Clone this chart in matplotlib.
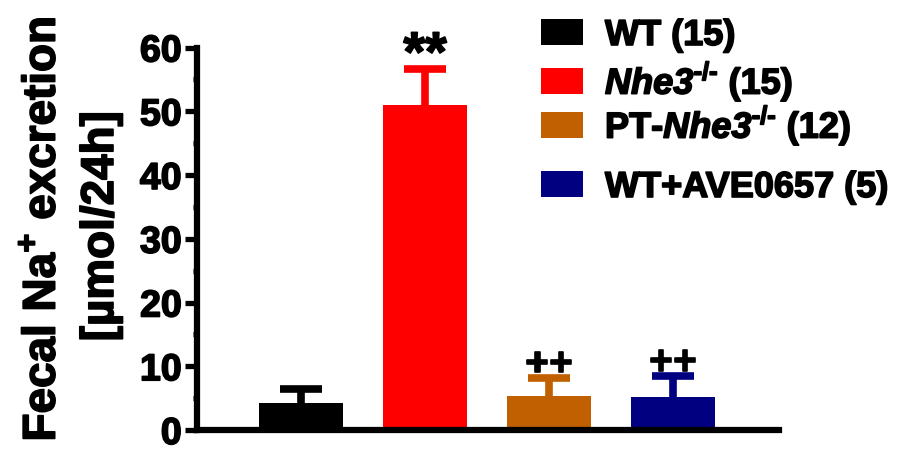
import numpy as np
import matplotlib.pyplot as plt
import matplotlib.patheffects as pe
from matplotlib.patches import Rectangle

plt.rcParams['font.family'] = ['Liberation Sans', 'DejaVu Sans']
plt.rcParams['font.weight'] = 'bold'
plt.rcParams['mathtext.fontset'] = 'custom'
plt.rcParams['mathtext.rm'] = 'Liberation Sans:bold'
plt.rcParams['mathtext.bf'] = 'Liberation Sans:bold'
plt.rcParams['mathtext.sf'] = 'Liberation Sans:bold:italic'

groups = ['WT (15)', r'$\mathsf{Nhe3}^{\text{-/-}}$ (15)',
          r'PT-$\mathsf{Nhe3}^{\text{-/-}}$ (12)', 'WT+AVE0657 (5)']
means = [4.3, 51.0, 5.4, 5.2]
sems = [2.2, 5.7, 2.7, 3.2]
marks = ['', '**', '++', '++']
colors = ['#000000', '#FF0000', '#C06000', '#000080']

# heavier strokes for all lettering
heavy = [pe.withStroke(linewidth=1.2, foreground='black')]

W, H = 897, 451
fig = plt.figure(figsize=(W / 100, H / 100), dpi=100)
ax = fig.add_axes([197 / W, 21 / H, 582 / W, 382.5 / H])

x = np.arange(len(means))
for i in x:
    ax.bar(x[i], means[i], width=0.68, color=colors[i], zorder=2)
    eb = ax.errorbar(x[i], means[i], yerr=[[0], [sems[i]]], fmt='none',
                     ecolor=colors[i], elinewidth=5.5, capsize=15,
                     capthick=5.5, zorder=1)
    eb[1][0].set_visible(False)  # no cap at the bar top
    if marks[i] == '**':
        ax.annotate(marks[i], (x[i], means[i] + sems[i]), xytext=(0, -1.5),
                    textcoords='offset points', ha='center', va='baseline',
                    fontsize=40, fontweight='bold', path_effects=heavy)
    elif marks[i]:
        ax.annotate(marks[i], (x[i], means[i] + sems[i]), xytext=(0, 2),
                    textcoords='offset points', ha='center', va='baseline',
                    fontsize=29, fontweight='bold', path_effects=heavy)

ax.set_xlim(-0.84, 3.855)
ax.set_ylim(0, 60)
ax.set_yticks(np.arange(0, 61, 10))
ax.set_yticks(np.arange(0, 61, 5), minor=True)
ax.set_xticks([])
for s in ['top', 'right']:
    ax.spines[s].set_visible(False)
for s in ['left', 'bottom']:
    ax.spines[s].set_linewidth(4.5)
ax.tick_params(axis='y', which='major', length=9, width=3.8, labelsize=27,
               pad=2)
ax.tick_params(axis='y', which='minor', length=3, width=3.8)
for lbl in ax.get_yticklabels():
    lbl.set_fontweight('bold')
    lbl.set_path_effects(heavy)

# two-line y label
fig.text(55 / W, 1 - 229 / H, 'Fecal Na$^{+}$ excretion', rotation=90,
         rotation_mode='anchor', ha='center', va='baseline', fontsize=33,
         fontweight='bold', path_effects=heavy)
fig.text(113 / W, 1 - 226 / H, '[µmol/24h]', rotation=90,
         rotation_mode='anchor', ha='center', va='baseline', fontsize=33,
         fontweight='bold', path_effects=heavy)

# legend drawn by hand to keep the wider gap before the last entry
rows_y = [32, 81, 125, 184]
for lab, c, yc in zip(groups, colors, rows_y):
    fig.patches.append(Rectangle((541 / W, 1 - (yc + 13) / H), 42 / W,
                                 26 / H, transform=fig.transFigure,
                                 facecolor=c, edgecolor='none'))
    fig.text(605 / W, 1 - (yc + 13) / H, lab, ha='left', va='baseline',
             fontsize=26, fontweight='bold', path_effects=heavy)

fig.savefig('out.png', dpi=100)
